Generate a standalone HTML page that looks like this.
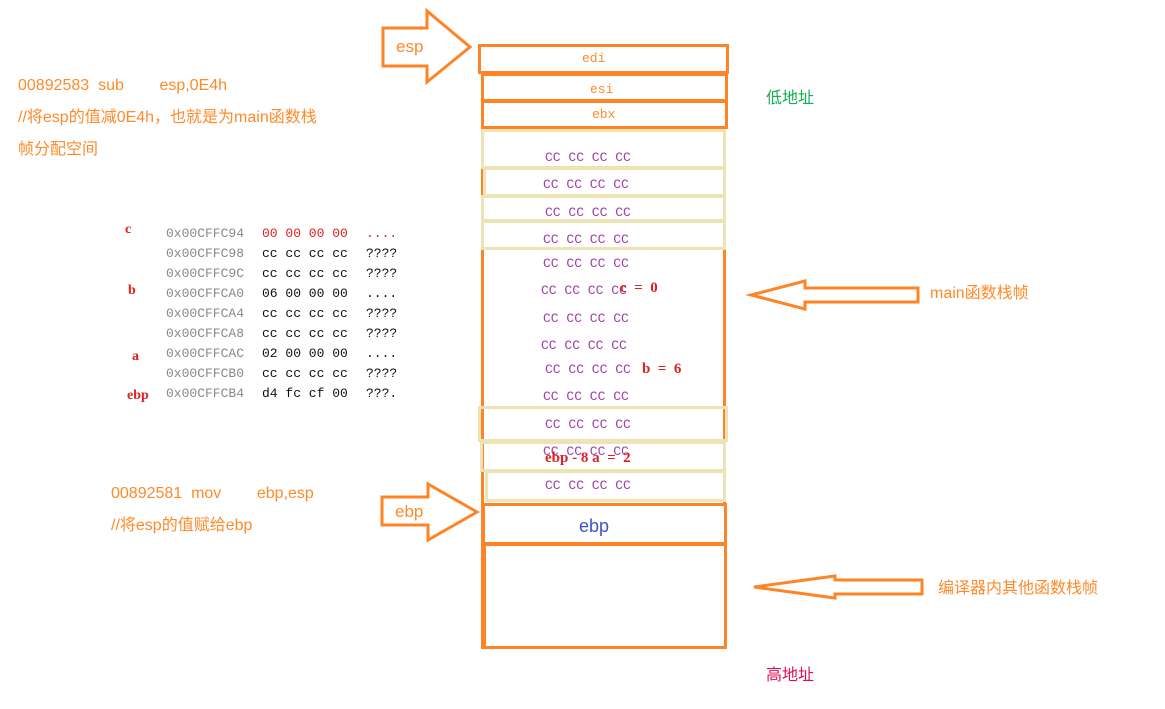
<!DOCTYPE html>
<html><head><meta charset="utf-8"><style>
body{margin:0;width:1165px;height:709px;background:#fff;position:relative;overflow:hidden;font-family:"Liberation Sans","Noto Sans CJK SC",sans-serif}
.t{position:absolute;white-space:pre;line-height:1}
.o{color:#ff8a2a;font-size:16px}
.cc{position:absolute;color:#a040a8;font-family:"Liberation Mono",monospace;font-size:13px;white-space:pre;line-height:1}
.m{position:absolute;font-family:"Liberation Mono",monospace;font-size:13px;white-space:pre;line-height:1}
.r{color:#e02020;font-family:"Liberation Serif",serif;font-weight:bold;font-size:15px}
.b{position:absolute;box-sizing:border-box}
.ob{border:3px solid #ff8426}
.bb{border:3px solid #ede3b5}
</style></head><body>
<svg width="1165" height="709" style="position:absolute;left:0;top:0">
<g fill="#fff" stroke="#ff8426" stroke-width="3">
<polygon points="383,28 427,28 427,11 470,47 427,82 427,66 383,66"/>
<polygon points="382,497 428,497 428,484 477,512 428,540 428,525 382,525"/>
<polygon points="918,288 805,288 805,281 751,295 805,309 805,302 918,302"/>
<polygon points="922,580 835,580 835,576 754,587 835,598 835,594 922,594"/>
</g>
</svg>
<div class="b" style="left:481px;top:126px;width:245px;height:523px;border:3px solid #ff8426"></div>
<div class="b" style="left:483px;top:543px;width:244px;height:106px;border:3px solid #ff8426;background:#fff"></div>
<div class="b ob" style="left:478px;top:44px;width:251px;height:30px;background:#fff"></div>
<div class="b ob" style="left:481px;top:73px;width:247px;height:29px;background:#fff"></div>
<div class="b ob" style="left:481px;top:100px;width:247px;height:29px;background:#fff"></div>
<div class="b bb" style="left:481px;top:129px;width:245px;height:40px"></div>
<div class="b bb" style="left:483px;top:167px;width:243px;height:30px"></div>
<div class="b bb" style="left:481px;top:195px;width:245px;height:27px"></div>
<div class="b bb" style="left:481px;top:220px;width:245px;height:30px"></div>
<div class="b bb" style="left:478px;top:406px;width:250px;height:36px"></div>
<div class="b bb" style="left:480px;top:441px;width:246px;height:31px"></div>
<div class="b bb" style="left:485px;top:470px;width:241px;height:32px"></div>
<div class="b ob" style="left:482px;top:503px;width:245px;height:42px;background:#fff"></div>
<div class="t" style="left:582px;top:52px;font-family:'Liberation Mono',monospace;font-size:13px;color:#ff8a2a">edi</div>
<div class="t" style="left:590px;top:83px;font-family:'Liberation Mono',monospace;font-size:13px;color:#ff8a2a">esi</div>
<div class="t" style="left:592px;top:108px;font-family:'Liberation Mono',monospace;font-size:13px;color:#ff8a2a">ebx</div>
<div class="t" style="left:579px;top:517px;font-size:18px;color:#4050c8">ebp</div>
<div class="cc" style="left:545px;top:151px">CC CC CC CC</div>
<div class="cc" style="left:543px;top:178px">CC CC CC CC</div>
<div class="cc" style="left:545px;top:206px">CC CC CC CC</div>
<div class="cc" style="left:543px;top:233px">CC CC CC CC</div>
<div class="cc" style="left:543px;top:257px">CC CC CC CC</div>
<div class="cc" style="left:541px;top:284px">CC CC CC CC</div>
<div class="cc" style="left:543px;top:312px">CC CC CC CC</div>
<div class="cc" style="left:541px;top:339px">CC CC CC CC</div>
<div class="cc" style="left:545px;top:363px">CC CC CC CC</div>
<div class="cc" style="left:543px;top:390px">CC CC CC CC</div>
<div class="cc" style="left:545px;top:418px">CC CC CC CC</div>
<div class="cc" style="left:543px;top:445px">CC CC CC CC</div>
<div class="cc" style="left:545px;top:479px">CC CC CC CC</div>
<div class="t r" style="left:620px;top:281px">c  =  0</div>
<div class="t r" style="left:642px;top:362px">b  =  6</div>
<div class="t r" style="left:545px;top:451px">ebp - 8 a  =  2</div>
<div class="t o" style="left:396px;top:38px;font-size:17px">esp</div>
<div class="t o" style="left:395px;top:503px;font-size:17px">ebp</div>
<div class="t o" style="left:18px;top:78px">00892583  sub        esp,0E4h</div>
<div class="t o" style="left:18px;top:110px">//将esp的值减0E4h，也就是为main函数栈</div>
<div class="t o" style="left:18px;top:142px">帧分配空间</div>
<div class="t o" style="left:111px;top:486px">00892581  mov        ebp,esp</div>
<div class="t o" style="left:111px;top:518px">//将esp的值赋给ebp</div>
<div class="t" style="left:766px;top:91px;font-size:16px;color:#10b050">低地址</div>
<div class="t" style="left:766px;top:668px;font-size:16px;color:#e01050">高地址</div>
<div class="t o" style="left:930px;top:286px">main函数栈帧</div>
<div class="t o" style="left:938px;top:581px">编译器内其他函数栈帧</div>
<div class="t r" style="left:125px;top:223px;font-size:14px">c</div>
<div class="t r" style="left:128px;top:284px;font-size:14px">b</div>
<div class="t r" style="left:132px;top:350px;font-size:14px">a</div>
<div class="t r" style="left:127px;top:389px;font-size:14px">ebp</div>
<div class="m" style="left:166px;top:224px;line-height:20px;color:#888">0x00CFFC94
0x00CFFC98
0x00CFFC9C
0x00CFFCA0
0x00CFFCA4
0x00CFFCA8
0x00CFFCAC
0x00CFFCB0
0x00CFFCB4</div>
<div class="m" style="left:262px;top:224px;line-height:20px;color:#111"><span style="color:#e02020">00 00 00 00</span>
cc cc cc cc
cc cc cc cc
06 00 00 00
cc cc cc cc
cc cc cc cc
02 00 00 00
cc cc cc cc
d4 fc cf 00</div>
<div class="m" style="left:366px;top:224px;line-height:20px;color:#111"><span style="color:#e02020">....</span>
????
????
....
????
????
....
????
???.</div>
</body></html>
